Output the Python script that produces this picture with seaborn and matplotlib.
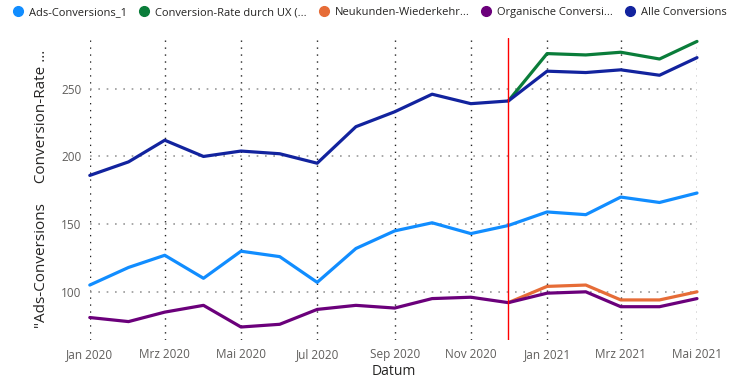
import pandas as pd
import matplotlib.pyplot as plt
from matplotlib.lines import Line2D
import seaborn as sns

# Monthly values
months = pd.date_range('2020-01-01', '2021-05-01', freq='MS')
ads = [105, 118, 127, 110, 130, 126, 107, 132, 145, 151, 143, 149, 159, 157, 170, 166, 173]
ux = [None] * 11 + [241, 276, 275, 277, 272, 285]
neukunden = [None] * 11 + [92, 104, 105, 94, 94, 100]
organisch = [81, 78, 85, 90, 74, 76, 87, 90, 88, 95, 96, 92, 99, 100, 89, 89, 95]
alle = [186, 196, 212, 200, 204, 202, 195, 222, 233, 246, 239, 241, 263, 262, 264, 260, 273]

series = ['Ads-Conversions_1', 'Conversion-Rate durch UX (...', 'Neukunden-Wiederkehr...',
          'Organische Conversi...', 'Alle Conversions']
colors = ['#118DFF', '#0A7D3A', '#E66C37', '#6B007B', '#12239E']
tick_labels = ['Jan 2020', 'Mrz 2020', 'Mai 2020', 'Jul 2020', 'Sep 2020', 'Nov 2020',
               'Jan 2021', 'Mrz 2021', 'Mai 2021']

df = pd.DataFrame({'Datum': months, series[0]: ads, series[1]: ux, series[2]: neukunden,
                   series[3]: organisch, series[4]: alle})
long = df.melt(id_vars='Datum', var_name='Reihe', value_name='Wert').dropna()
long['Wert'] = long['Wert'].astype(float)

sns.set_style('white')
plt.rcParams['font.family'] = ['Open Sans', 'DejaVu Sans']

fig = plt.figure(figsize=(7.36, 3.92), dpi=100)
ax = fig.add_axes([0.122, 0.133, 0.825, 0.770])

sns.lineplot(data=long, x='Datum', y='Wert', hue='Reihe', hue_order=series,
             palette=colors, linewidth=2.3, ax=ax, legend=False, zorder=3)
for line in ax.lines:
    line.set_clip_on(False)

# red marker line at Dec 2020
ax.axvline(pd.Timestamp('2020-12-01'), color='#FF0000', linewidth=1, zorder=4)

ax.set_xlim(months[0], months[-1])
ax.set_ylim(64.5, 287.5)
ax.set_yticks([100, 150, 200, 250])
ax.set_xticks(months[::2])
ax.set_xticklabels(tick_labels)
ax.tick_params(axis='both', labelsize=8.5, labelcolor='#605E5C', length=0, pad=6)

ax.grid(False)
ax.xaxis.grid(True, linestyle=(0, (1, 4)), color='#222222', linewidth=1)
ax.yaxis.grid(True, linestyle=(0, (1, 4)), color='#999999', linewidth=1.2)
for s in ax.spines.values():
    s.set_visible(False)

ax.set_xlabel('Datum', fontsize=10, color='#252423', labelpad=2)
ax.set_ylabel('"Ads-Conversions     Conversion-Rate ...', fontsize=11, color='#252423', labelpad=9)

handles = [Line2D([0], [0], marker='o', linestyle='', markersize=7, color=c) for c in colors]
fig.legend(handles, series, loc='upper left', bbox_to_anchor=(0.0, 1.0), ncol=5,
           frameon=False, fontsize=8, handletextpad=0.0, columnspacing=0.5,
           labelcolor='#252423', borderaxespad=0.25)

fig.savefig('out.png', dpi=100)
